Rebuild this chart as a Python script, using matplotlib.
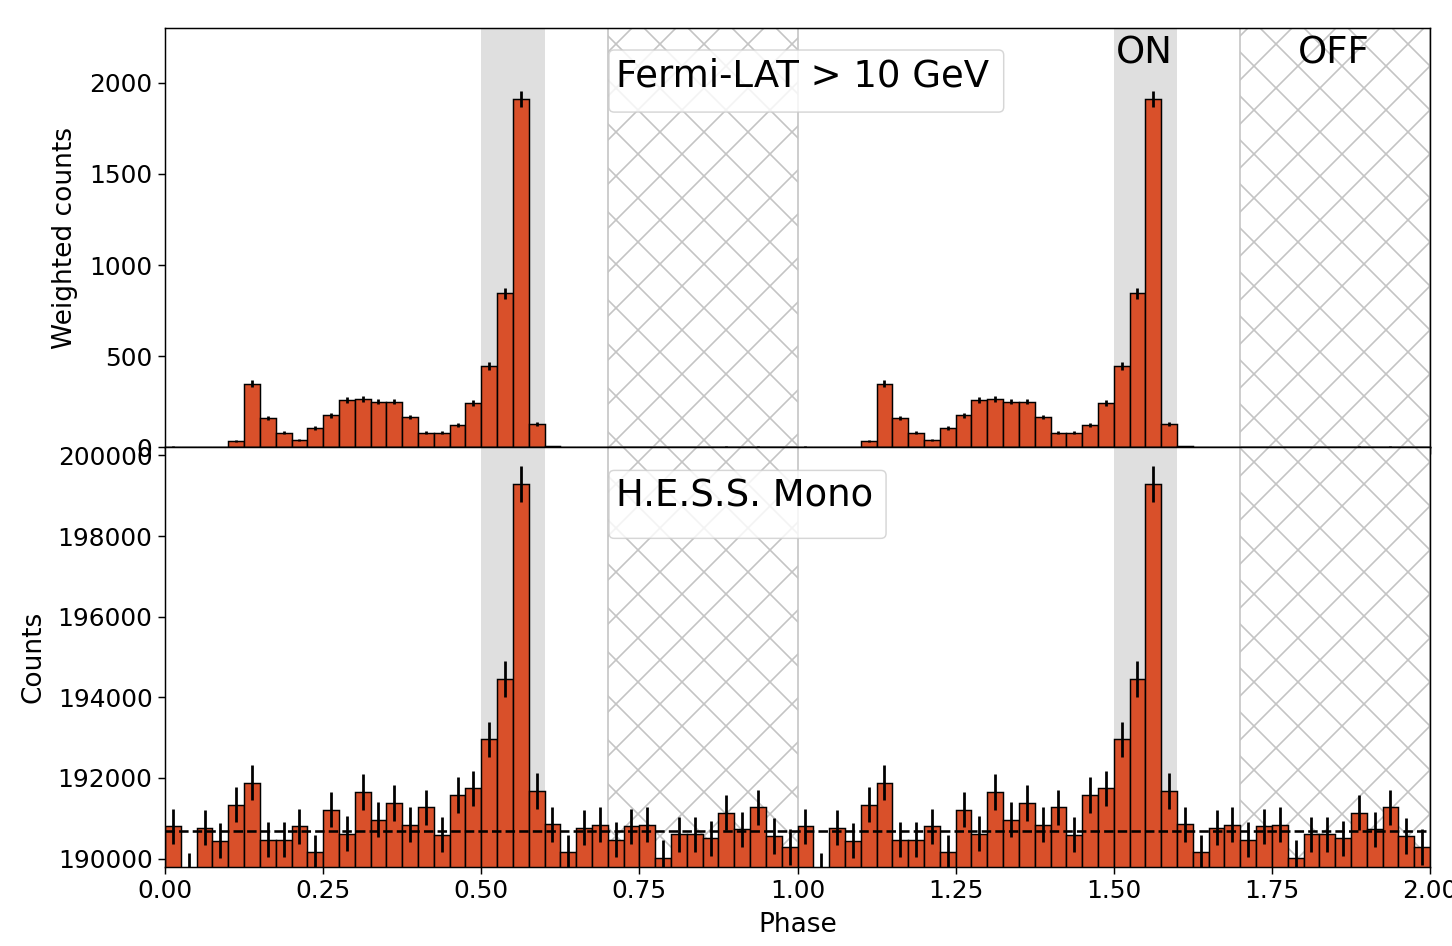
import numpy as np
import matplotlib
matplotlib.use("Agg")
import matplotlib.pyplot as plt
from matplotlib.patches import FancyBboxPatch

# phase-folded light curves, 40 bins per cycle, shown for two cycles
fermi_counts = [3, 0, 2, 2, 35, 350, 161, 80, 40, 108,
                176, 258, 264, 251, 251, 167, 80, 80, 125, 244,
                445, 845, 1910, 130, 5, 1, 1, 1, 1, 1,
                1, 1, 1, 1, 2, 3, 2, 3, 1, 1]
hess_counts = [190800, 189700, 190770, 190440, 191340, 191880, 190470, 190470, 190800, 190160,
               191210, 190620, 191650, 190970, 191380, 190840, 191270, 190590, 191580, 191740,
               192960, 194450, 199300, 191680, 190850, 190160, 190770, 190840, 190470, 190800,
               190840, 190025, 190600, 190600, 190500, 191140, 190730, 191270, 190560, 190290]
hess_background = 190683

on_regions = [(0.5, 0.6), (1.5, 1.6)]
off_regions = [(0.7, 1.0), (1.7, 2.0)]

DPI = 264
BAR = "#d9502a"

plt.rcParams["hatch.linewidth"] = 0.45
plt.rcParams["hatch.color"] = "#bdbdbd"

fig = plt.figure(figsize=(1452 / DPI, 946 / DPI), dpi=DPI)
gs = fig.add_gridspec(2, 1, left=165 / 1452, right=1430 / 1452,
                      top=1 - 28 / 946, bottom=1 - 866.7 / 946, hspace=0)
ax1 = fig.add_subplot(gs[0])
ax2 = fig.add_subplot(gs[1], sharex=ax1)

edges = np.linspace(0, 2, 81)
width = edges[1] - edges[0]
centers = edges[:-1] + width / 2


def panel(ax, vals):
    vals = np.array(vals * 2, dtype=float)
    for a, b in on_regions:
        ax.axvspan(a, b, color="gray", alpha=0.25, lw=0, zorder=0)
    for a, b in off_regions:
        ax.axvspan(a, b, fill=False, hatch="xx", edgecolor="#c4c4c4", lw=0.45, zorder=0.5)
    ax.bar(edges[:-1], vals, width=width, align="edge", color=BAR,
           edgecolor="black", linewidth=0.4, zorder=2)
    ax.errorbar(centers, vals, yerr=np.sqrt(vals), fmt="none", ecolor="black",
                elinewidth=0.75, capsize=0, zorder=3)
    ax.tick_params(labelsize=6.8, length=1.9, width=0.4, pad=1.5)
    for s in ax.spines.values():
        s.set_linewidth(0.4)


def label_box(ax, text, x0, x1, y0, y1):
    # legend-like framed label, box given in axes fractions
    aspect = ax.bbox.width / ax.bbox.height
    ax.add_patch(FancyBboxPatch((x0, y0), x1 - x0, y1 - y0,
                                boxstyle="round,pad=0,rounding_size=0.004",
                                mutation_aspect=aspect, transform=ax.transAxes,
                                fc="white", ec="0.8", lw=0.4, alpha=0.8, zorder=5))
    ax.text(x0 + 0.0055, 0.860, text, transform=ax.transAxes,
            fontsize=10.1, va="baseline", ha="left", zorder=6)


panel(ax1, fermi_counts)
panel(ax2, hess_counts)
ax2.axhline(hess_background, color="black", ls="--", lw=0.7, zorder=4)

ax1.set_ylim(0, 2300)
ax2.set_ylim(189800, 200200)
ax2.set_xlim(0, 2)
ax2.ticklabel_format(axis="y", useOffset=False, style="plain")
ax1.tick_params(labelbottom=False)

ax1.set_ylabel("Weighted counts", fontsize=7.2, labelpad=3)
ax2.set_ylabel("Counts", fontsize=7.2, labelpad=3)
ax2.set_xlabel("Phase", fontsize=7.2, labelpad=2.5)

label_box(ax1, "Fermi-LAT > 10 GeV", 0.351, 0.663, 0.7995, 0.9475)
label_box(ax2, "H.E.S.S. Mono", 0.351, 0.570, 0.783, 0.945)

ax1.text(1.549, 0.916, "ON", transform=ax1.get_xaxis_transform(),
         fontsize=10.1, va="baseline", ha="center", zorder=5)
ax1.text(1.848, 0.916, "OFF", transform=ax1.get_xaxis_transform(),
         fontsize=10.1, va="baseline", ha="center", zorder=5)

fig.savefig("out.png", dpi=DPI)
